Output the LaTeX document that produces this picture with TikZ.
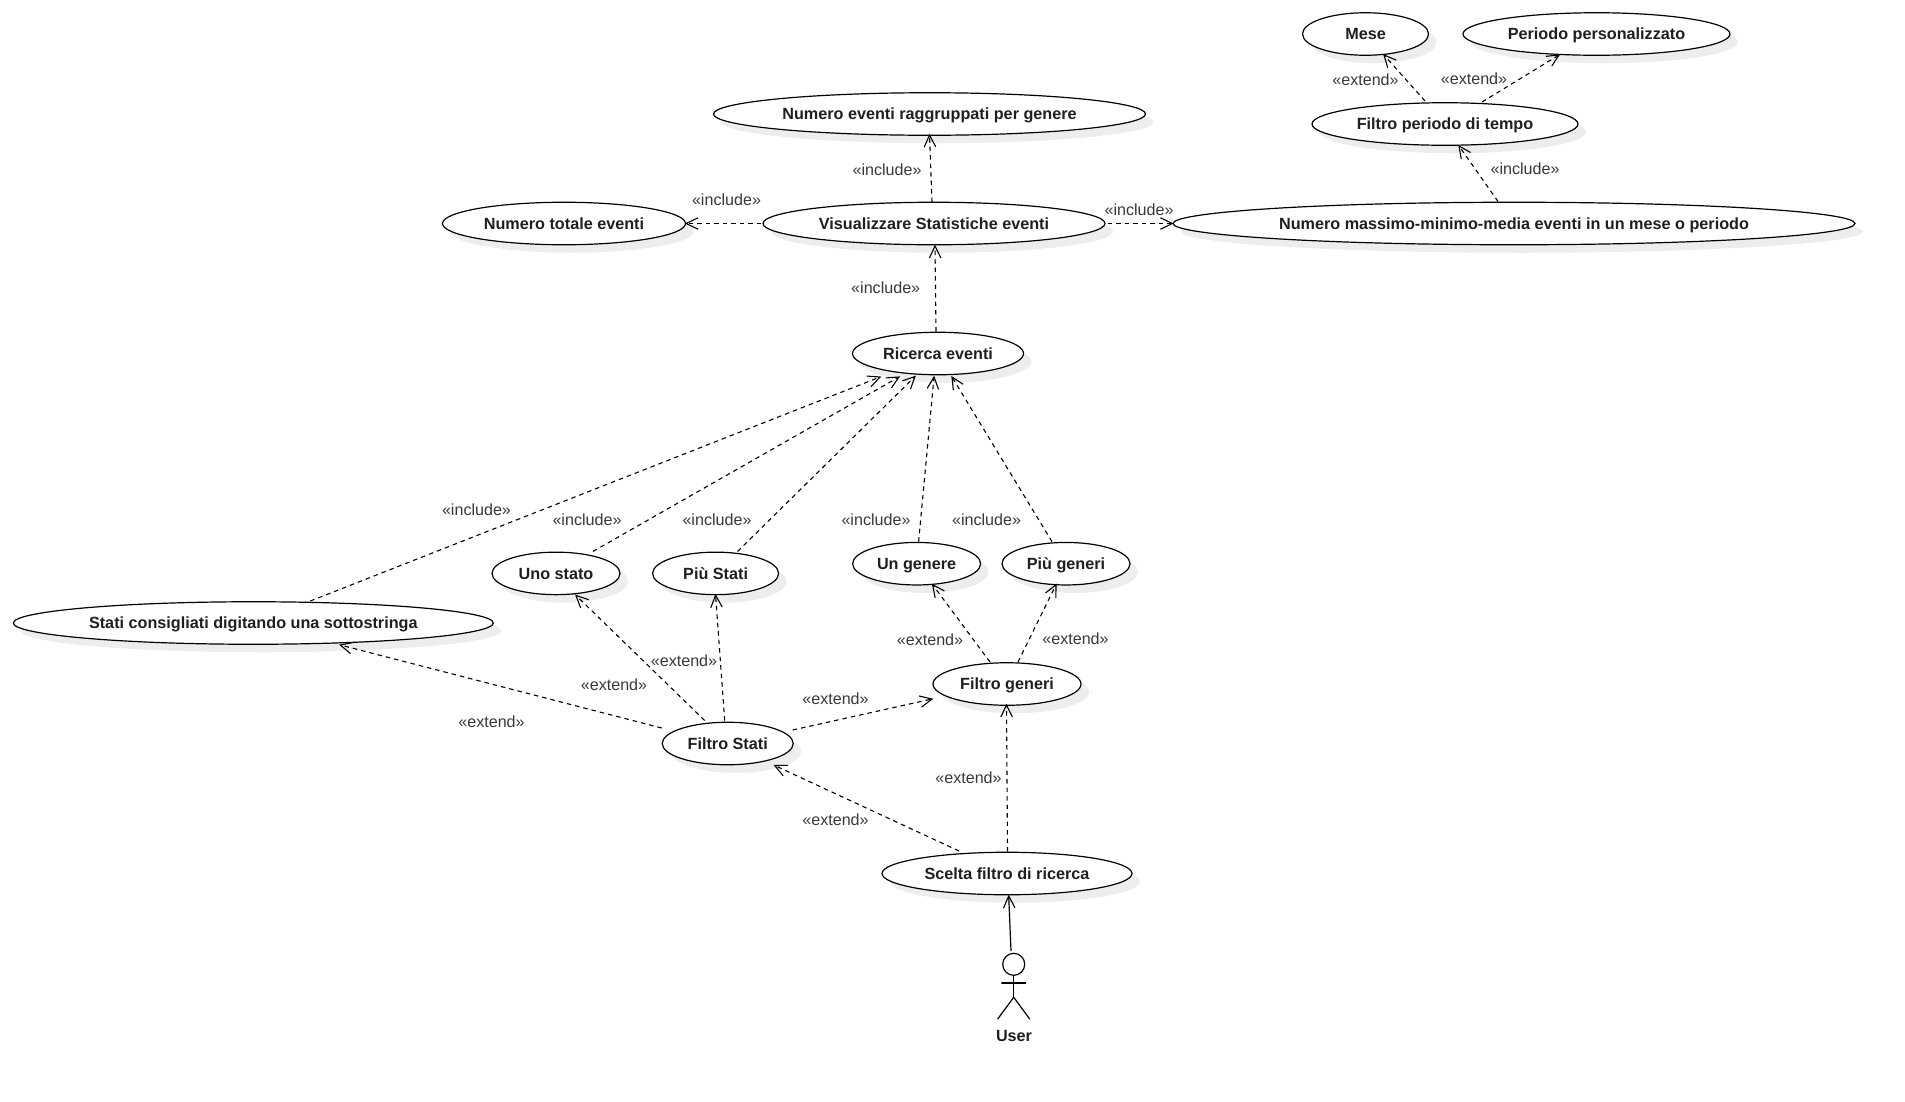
\documentclass[tikz,border=0pt]{standalone}
\usepackage{fontspec}
\setmainfont{Liberation Sans}
\usetikzlibrary{arrows.meta,calc,shadows,shapes.geometric}
\pgfdeclarearrow{
  name=OpenV,
  defaults={length=12pt,width=11.5pt},
  parameters={\the\pgfarrowlength,\the\pgfarrowwidth},
  setup code={
    \pgfarrowssettipend{0pt}
    \pgfarrowssetlineend{-0.4pt}
    \pgfarrowssetvisualbackend{-\pgfarrowlength}
    \pgfarrowssetbackend{-\pgfarrowlength}
    \pgfarrowshullpoint{0pt}{0pt}
    \pgfarrowshullpoint{-\pgfarrowlength}{0.5\pgfarrowwidth}
    \pgfarrowshullpoint{-\pgfarrowlength}{-0.5\pgfarrowwidth}
    \pgfarrowssavethe\pgfarrowlength
    \pgfarrowssavethe\pgfarrowwidth
  },
  drawing code={
    \pgfsetdash{}{0pt}
    \pgfsetlinewidth{1.1pt}
    \pgfpathmoveto{\pgfqpoint{-\pgfarrowlength}{0.5\pgfarrowwidth}}
    \pgfpathlineto{\pgfqpoint{0pt}{0pt}}
    \pgfpathlineto{\pgfqpoint{-\pgfarrowlength}{-0.5\pgfarrowwidth}}
    \pgfusepathqstroke
  }
}
\tikzset{
  usecase/.style={ellipse,draw=black,line width=1.2pt,fill=white,inner sep=0pt,
    minimum height=42.5pt,text=black!88,text height=12pt,text depth=0.4pt,
    font=\fontsize{16.2}{19}\selectfont\bfseries,
    copy shadow={shadow xshift=8pt,shadow yshift=-8pt,fill=black!7,draw=none}},
  dep/.style={line width=1.1pt,draw=black,dash pattern=on 4.5pt off 4pt,-{OpenV}},
  assoc/.style={line width=1.2pt,draw=black,-{OpenV}},
  stereo/.style={text=black!78,inner sep=0pt,font=\fontsize{16.1}{19}\selectfont},
  limb/.style={line width=1.2pt,draw=black,line cap=round},
}
\begin{document}
\begin{tikzpicture}[x=1pt,y=-1pt]
\useasboundingbox (0,0) rectangle (1905,1101);
% use cases
\node[usecase,minimum width=126pt] (mese) at (1365.5,34) {Mese};
\node[usecase,minimum width=267pt] (periodo) at (1596.5,34) {Periodo personalizzato};
\node[usecase,minimum width=266pt] (filtroP) at (1445,124) {Filtro periodo di tempo};
\node[usecase,minimum width=432pt] (raggr) at (929.5,114) {Numero eventi raggruppati per genere};
\node[usecase,minimum width=342pt] (vis) at (934,223.5) {Visualizzare Statistiche eventi};
\node[usecase,minimum width=243pt] (tot) at (564,223.5) {Numero totale eventi};
\node[usecase,minimum width=682pt] (mass) at (1514,223.5) {Numero massimo-minimo-media eventi in un mese o periodo};
\node[usecase,minimum width=171pt] (ric) at (938,353.5) {Ricerca eventi};
\node[usecase,minimum width=128pt] (uno) at (556,573.4) {Uno stato};
\node[usecase,minimum width=126pt] (piuS) at (715.6,573.4) {Più Stati};
\node[usecase,minimum width=128pt] (unG) at (916.6,563.7) {Un genere};
\node[usecase,minimum width=128pt] (piuG) at (1066,563.7) {Più generi};
\node[usecase,minimum width=480pt] (cons) at (253.3,623) {Stati consigliati digitando una sottostringa};
\node[usecase,minimum width=148pt] (filtroG) at (1007,684) {Filtro generi};
\node[usecase,minimum width=131pt] (filtroS) at (727.7,743.5) {Filtro Stati};
\node[usecase,minimum width=250pt] (scelta) at (1007,873.5) {Scelta filtro di ricerca};
% actor
\node[circle,draw=black,line width=1.2pt,minimum size=22pt,inner sep=0pt] (head) at (1013.7,964.3) {};
\draw[limb] (head.south) -- ($(head)+(0,33)$);
\draw[limb] ($(head)+(-12,18.7)$) -- ($(head)+(12,18.7)$);
\draw[limb] ($(head)+(-16,54.7)$) -- ($(head)+(0,33)$) -- ($(head)+(16,54.7)$);
\node[text=black!88,inner sep=0pt,font=\fontsize{16.2}{19}\selectfont\bfseries] (user) at (1014,1035.5) {User};
% connectors
\draw[dep] ($(vis)+(-2,-21.5)$) -- ($(raggr)+(0,21)$);
\draw[dep] ($(vis.west)+(-1,0)$) -- (tot.east);
\draw[dep] ($(vis.east)+(2,0)$) -- (mass.west);
\draw[dep] ($(ric)+(-2,-22)$) -- ($(vis)+(1,22.5)$);
\draw[dep] ($(mass)+(-16,-22)$) -- ($(filtroP)+(14,22)$);
\draw[dep] ($(filtroP)+(-20,-23)$) -- ($(mese)+(18.5,21)$);
\draw[dep] ($(filtroP)+(37,-22)$) -- ($(periodo)+(-37.5,21)$);
\draw[dep] ($(cons)+(57,-22)$) -- ($(ric)+(-58,23.5)$);
\draw[dep] ($(uno)+(37,-22)$) -- ($(ric)+(-39,23.5)$);
\draw[dep] ($(piuS)+(22,-22)$) -- ($(ric)+(-23,23)$);
\draw[dep] ($(unG)+(2,-22)$) -- ($(ric)+(-4,23.5)$);
\draw[dep] ($(piuG)+(-14,-22)$) -- ($(ric)+(14,23.5)$);
\draw[dep] ($(filtroS)+(-66,-15.5)$) -- ($(cons)+(87,22)$);
\draw[dep] ($(filtroS)+(-23,-23)$) -- ($(uno)+(20,22)$);
\draw[dep] ($(filtroS)+(-3,-23)$) -- ($(piuS)+(0,22)$);
\draw[dep] ($(filtroS)+(65,-13.5)$) -- ($(filtroG)+(-75,15)$);
\draw[dep] ($(filtroG)+(-17,-22)$) -- ($(unG)+(16,21)$);
\draw[dep] ($(filtroG)+(11,-22)$) -- ($(piuG)+(-10,21)$);
\draw[dep] ($(scelta)+(0.5,-22)$) -- ($(filtroG)+(-0.5,21)$);
\draw[dep] ($(scelta)+(-48,-22.5)$) -- ($(filtroS)+(47,22)$);
\draw[assoc] ($(head)+(-2.7,-13.3)$) -- ($(scelta)+(1.7,22.5)$);
% labels
\node[stereo] (l1) at (887,169.5) {«include»};
\node[stereo] (l2) at (726.5,199.5) {«include»};
\node[stereo] (l3) at (1139,209.5) {«include»};
\node[stereo] (l4) at (885.7,287.5) {«include»};
\node[stereo] (l5) at (1525,169) {«include»};
\node[stereo] (l6) at (476.5,509.5) {«include»};
\node[stereo] (l7) at (587,519.5) {«include»};
\node[stereo] (l8) at (717,519.5) {«include»};
\node[stereo] (l9) at (876,519.5) {«include»};
\node[stereo] (l10) at (986.5,519.5) {«include»};
\node[stereo] (e1) at (1365.5,80) {«extend»};
\node[stereo] (e2) at (1474,79) {«extend»};
\node[stereo] (e3) at (930,639.5) {«extend»};
\node[stereo] (e4) at (1075.5,638.5) {«extend»};
\node[stereo] (e5) at (684,660.5) {«extend»};
\node[stereo] (e6) at (614,684.5) {«extend»};
\node[stereo] (e7) at (491.5,722) {«extend»};
\node[stereo] (e8) at (835.5,699) {«extend»};
\node[stereo] (e9) at (968.5,777.5) {«extend»};
\node[stereo] (e10) at (835.5,819.5) {«extend»};
\end{tikzpicture}
\end{document}
